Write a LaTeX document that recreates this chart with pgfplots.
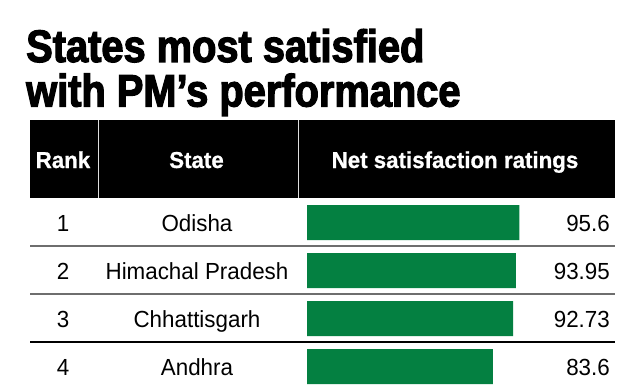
\documentclass[border=0pt]{standalone}
\usepackage{pgfplots}
\pgfplotsset{compat=1.18}
\usepackage{fontspec}
\setmainfont{Liberation Sans}
\newfontfamily\titlefont[FakeStretch=0.875, BoldFeatures={FakeBold=2.6}]{Liberation Sans}
\newfontfamily\headfont[FakeStretch=0.97, BoldFeatures={FakeBold=0.8}]{Liberation Sans}
\newfontfamily\bodyfont[FakeStretch=0.96]{Liberation Sans}
\definecolor{barg}{RGB}{4,128,65}
\definecolor{sepgray}{RGB}{110,110,110}
\begin{document}
\begin{tikzpicture}
\begin{axis}[at={(307pt,190.5pt)}, anchor=north west, scale only axis,
  width=222.2pt, height=192pt, xmin=0, xmax=100, ymin=0.5, ymax=4.5,
  y dir=reverse, hide axis, xbar, bar width=35pt, clip=false]
\addplot[fill=barg, draw=none, bar shift=0pt] coordinates {(95.6,1) (93.95,2) (92.73,3) (83.6,4)};
\end{axis}
\begin{scope}[x=1pt,y=1pt]
% title
\node[anchor=base west, inner sep=0pt, font={\titlefont\bfseries\fontsize{45.5}{45}\selectfont}] at (26,327) {States most satisfied};
\node[anchor=base west, inner sep=0pt, font={\titlefont\bfseries\fontsize{45.5}{45}\selectfont}] at (26,282.5) {with PM’s performance};
% header
\fill[black] (30,191) rectangle (615,269);
\draw[white!75!gray, line width=0.8pt] (98,191) -- (98,269);
\draw[white!75!gray, line width=0.8pt] (298,191) -- (298,269);
\begin{scope}[every node/.style={anchor=base, inner sep=0pt, text=white, font={\headfont\bfseries\fontsize{23}{27}\selectfont}}]
\node at (63,221) {Rank};
\node at (196.5,221) {State};
\node at (455,221) {Net satisfaction ratings};
\end{scope}
% separators
\draw[sepgray, line width=1.2pt] (30,143) -- (615,143);
\draw[sepgray, line width=1.2pt] (30,95) -- (615,95);
\draw[black, line width=1.2pt] (30,47) -- (615,47);
% body
\begin{scope}[every node/.style={anchor=base, inner sep=0pt, font={\bodyfont\fontsize{23.3}{27}\selectfont}}]
\node at (63,157.3) {1};
\node at (63,109.3) {2};
\node at (63,61.3) {3};
\node at (63,13.3) {4};
\node at (197,157.3) {Odisha};
\node at (197,109.3) {Himachal Pradesh};
\node at (197,61.3) {Chhattisgarh};
\node at (197,13.3) {Andhra};
\node[anchor=base east] at (610,157.3) {95.6};
\node[anchor=base east] at (610,109.3) {93.95};
\node[anchor=base east] at (610,61.3) {92.73};
\node[anchor=base east] at (610,13.3) {83.6};
\end{scope}
\end{scope}
\pgfresetboundingbox
\path[use as bounding box] (0,0) rectangle (631pt,389pt);
\end{tikzpicture}
\end{document}
